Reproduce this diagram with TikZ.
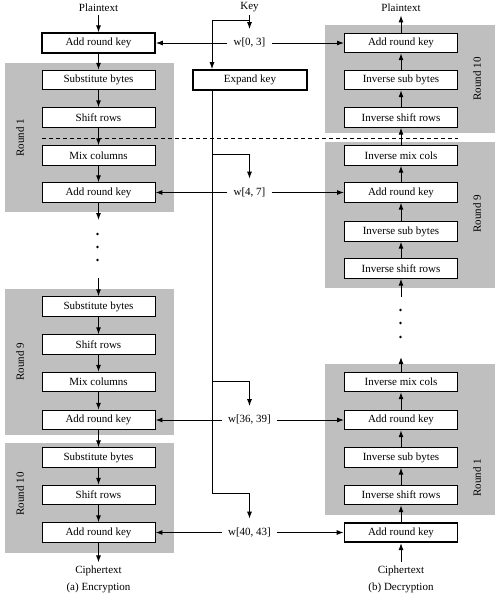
\documentclass[tikz,border=0pt]{standalone}
\usepackage{fontspec}
\setmainfont{Liberation Serif}
\usetikzlibrary{arrows.meta}
\begin{document}
\begin{tikzpicture}[
		x=1pt, y=-1pt,
		every node/.style={font=\fontsize{11}{13}\selectfont},
		stage/.style={draw, fill=white, line width=0.9pt, minimum width=113pt, minimum height=19.5pt, inner sep=0},
		thickstage/.style={stage, line width=1.7pt},
		roundbg/.style={fill=black!25},
		roundlabel/.style={rotate=90},
		keyword/.style={inner xsep=6pt, inner ysep=2pt},
		arr/.style={-{Latex[length=7pt,width=5pt]}, line width=1pt},
		wire/.style={line width=1pt},
	]
	\useasboundingbox (0,0) rectangle (500,598);
	% round backgrounds
	\fill[roundbg] (5,63) rectangle (174,212);
	\fill[roundbg] (5,289) rectangle (174,435);
	\fill[roundbg] (5,443) rectangle (174,553);
	\fill[roundbg] (325,25) rectangle (495,133);
	\fill[roundbg] (325,142) rectangle (495,288);
	\fill[roundbg] (325,364) rectangle (495,515);
	\node[roundlabel] (rl1) at (20,138) {Round 1};
	\node[roundlabel] (rl9) at (20,362) {Round 9};
	\node[roundlabel] (rl10) at (20,494) {Round 10};
	\node[roundlabel] (irl10) at (477,79) {Round 10};
	\node[roundlabel] (irl9) at (477,214) {Round 9};
	\node[roundlabel] (irl1) at (477,478) {Round 1};
	\draw[wire, dash pattern=on 4pt off 3pt] (42,138) -- (458,138);
	% encryption
	\node (ptxt) at (98.5,8) {Plaintext};
	\node[thickstage] (ark0) at (98.5,43) {Add round key};
	\node[stage] (sub1) at (98.5,80) {Substitute bytes};
	\node[stage] (shf1) at (98.5,117.5) {Shift rows};
	\node[stage] (mix1) at (98.5,155.5) {Mix columns};
	\node[stage] (ark1) at (98.5,192.5) {Add round key};
	\node[stage] (sub9) at (98.5,306.5) {Substitute bytes};
	\node[stage] (shf9) at (98.5,344.5) {Shift rows};
	\node[stage] (mix9) at (98.5,382) {Mix columns};
	\node[stage] (ark9) at (98.5,420) {Add round key};
	\node[stage] (sub10) at (98.5,457.5) {Substitute bytes};
	\node[stage] (shf10) at (98.5,495) {Shift rows};
	\node[stage] (ark10) at (98.5,532.5) {Add round key};
	\node (ctxt) at (98.5,571) {Ciphertext};
	\node (enc) at (98.5,588) {(a) Encryption};
	\coordinate (gapA) at (98.5,220);
	\coordinate (gapB) at (98.5,278);
	\foreach \y in {234,247,260} \fill (97.5,\y) circle (1.3pt);
	\foreach \a/\b in {ptxt/ark0, ark0/sub1, sub1/shf1, shf1/mix1, mix1/ark1, ark1/gapA, gapB/sub9, sub9/shf9, shf9/mix9, mix9/ark9, ark9/sub10, sub10/shf10, shf10/ark10, ark10/ctxt}
		\draw[arr] (\a) -- (\b);
	% decryption
	\node (iptxt) at (401,8) {Plaintext};
	\node[stage] (iark10) at (401,43) {Add round key};
	\node[stage] (isub10) at (401,80) {Inverse sub bytes};
	\node[stage] (ishf10) at (401,117.5) {Inverse shift rows};
	\node[stage] (imix9) at (401,155.5) {Inverse mix cols};
	\node[stage] (iark9) at (401,192.5) {Add round key};
	\node[stage] (isub9) at (401,231.5) {Inverse sub bytes};
	\node[stage] (ishf9) at (401,268.5) {Inverse shift rows};
	\node[stage] (imix1) at (401,382) {Inverse mix cols};
	\node[stage] (iark1) at (401,420) {Add round key};
	\node[stage] (isub1) at (401,457.5) {Inverse sub bytes};
	\node[stage] (ishf1) at (401,495) {Inverse shift rows};
	\node[thickstage] (iark0) at (401,532.5) {Add round key};
	\node (ictxt) at (401,571) {Ciphertext};
	\node (dec) at (401,588) {(b) Decryption};
	\coordinate (igapA) at (401,357);
	\coordinate (igapB) at (401,297);
	\foreach \y in {310,323,337} \fill (400.5,\y) circle (1.3pt);
	\foreach \a/\b in {ictxt/iark0, iark0/ishf1, ishf1/isub1, isub1/iark1, iark1/imix1, imix1/igapA, igapB/ishf9, ishf9/isub9, isub9/iark9, iark9/imix9, imix9/ishf10, ishf10/isub10, isub10/iark10, iark10/iptxt}
		\draw[arr] (\a) -- (\b);
	% key schedule
	\node (key) at (249.5,7) {Key};
	\node[thickstage, minimum width=114pt, minimum height=20pt] (expand) at (250,80) {Expand key};
	\node[keyword] (w03) at (249.5,43) {w[0, 3]};
	\node[keyword] (w47) at (249.5,192.5) {w[4, 7]};
	\node[keyword] (w3639) at (249.5,420) {w[36, 39]};
	\node[keyword] (w4043) at (249.5,532.5) {w[40, 43]};
	\draw[arr, shorten >=7pt] (key) -- (w03);
	\draw[arr] (249.5,20) -| ([xshift=-38pt]expand.north);
	\draw[wire] ([xshift=-38pt]expand.south) -- (212,493);
	\foreach \y/\w in {154/w47, 381/w3639, 493/w4043}
		\draw[arr, shorten >=7pt] (212,\y) -| (\w);
	\foreach \w/\l/\r in {w03/ark0/iark10, w47/ark1/iark9, w3639/ark9/iark1, w4043/ark10/iark0} {
		\draw[arr] (\w) -- (\l);
		\draw[arr] (\w) -- (\r);
	}
\end{tikzpicture}
\end{document}
